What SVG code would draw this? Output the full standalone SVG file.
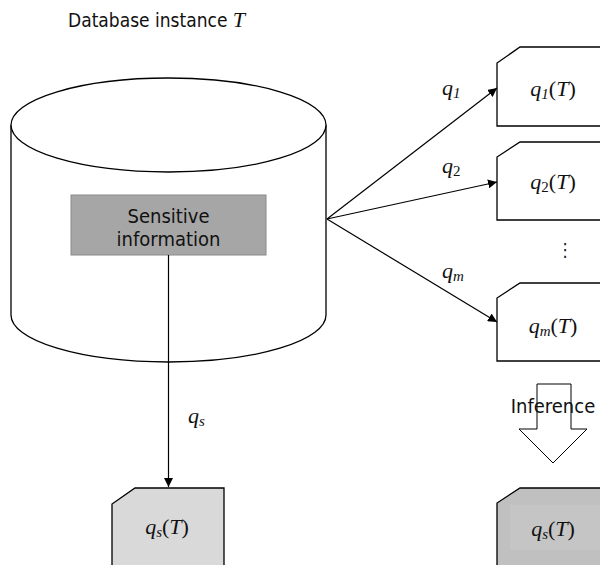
<svg xmlns="http://www.w3.org/2000/svg" width="600" height="565" viewBox="0 0 600 565">
<style>
.sans{font-family:"DejaVu Sans Condensed","DejaVu Sans",Verdana,sans-serif;fill:#111}
.m{font-family:"Liberation Serif","Times New Roman",serif;font-style:italic;font-size:22px;fill:#111}
.up{font-style:normal}
.sub{font-size:15px}
.edge{stroke:#000;stroke-width:1.2;fill:none}
.box{stroke:#000;stroke-width:1.3}
</style>
<defs>
<marker id="ah" viewBox="0 0 10 10" refX="10" refY="5" markerWidth="9" markerHeight="9" markerUnits="userSpaceOnUse" orient="auto">
<path d="M0,0 L10,5 L0,10 z" fill="#000"/>
</marker>
</defs>
<rect width="600" height="565" fill="#fff"/>

<text id="title" class="sans" x="68" y="27" font-size="19">Database instance <tspan class="m" font-size="21">T</tspan></text>

<g id="database">
<path class="box" fill="#fff" d="M11,125 L11,315 A157.5,47 0 0 0 326,315 L326,125"/>
<ellipse class="box" fill="#fff" cx="168.5" cy="125" rx="157.5" ry="47"/>
</g>

<g id="sensitive">
<rect x="71" y="195" width="195" height="60" fill="#a6a6a6" stroke="#8a8a8a" stroke-width="1"/>
<text class="sans" x="168.5" y="223" font-size="20" text-anchor="middle">Sensitive</text>
<text class="sans" x="168.5" y="246" font-size="20" text-anchor="middle">information</text>
</g>

<g id="connectors">
<line class="edge" x1="327" y1="219" x2="497" y2="88" marker-end="url(#ah)"/>
<line class="edge" x1="327" y1="219" x2="497" y2="182" marker-end="url(#ah)"/>
<line class="edge" x1="327" y1="219" x2="497" y2="322" marker-end="url(#ah)"/>
<line class="edge" x1="168.5" y1="255" x2="168.5" y2="487" marker-end="url(#ah)"/>
<text class="m" x="442" y="95">q<tspan class="sub" dy="3">1</tspan></text>
<text class="m" x="442" y="173">q<tspan class="sub up" dy="3">2</tspan></text>
<text class="m" x="442" y="278">q<tspan class="sub" dy="3">m</tspan></text>
<text class="m" x="188" y="423">q<tspan class="sub" dy="3">s</tspan></text>
</g>

<g id="q1T">
<path class="box" fill="#fff" d="M620,47 L520,47 L497,63 L497,126 L620,126"/>
<text class="m" x="553" y="96" text-anchor="middle">q<tspan class="sub" dy="3">1</tspan><tspan class="up" dy="-3">(</tspan>T<tspan class="up">)</tspan></text>
</g>

<g id="q2T">
<path class="box" fill="#fff" d="M620,142 L520,142 L497,157 L497,220 L620,220"/>
<text class="m" x="553" y="189" text-anchor="middle">q<tspan class="sub up" dy="3">2</tspan><tspan class="up" dy="-3">(</tspan>T<tspan class="up">)</tspan></text>
</g>

<text id="dots" class="sans" x="565" y="256" font-size="18" text-anchor="middle">⋮</text>

<g id="qmT">
<path class="box" fill="#fff" d="M620,283 L520,283 L497,298 L497,361 L620,361"/>
<text class="m" x="553" y="333" text-anchor="middle">q<tspan class="sub" dy="3">m</tspan><tspan class="up" dy="-3">(</tspan>T<tspan class="up">)</tspan></text>
</g>

<g id="inference">
<path d="M537,384 L571,384 L571,429 L587,429 L553,463 L519,429 L537,429 Z" fill="#fff" stroke="#000" stroke-width="1"/>
<text class="sans" x="553" y="413" font-size="20" text-anchor="middle">Inference</text>
</g>

<g id="qsT-left">
<path class="box" fill="#d9d9d9" d="M112,580 L112,504 L135,488 L224,488 L224,580"/>
<text class="m" x="167" y="534" text-anchor="middle">q<tspan class="sub" dy="3">s</tspan><tspan class="up" dy="-3">(</tspan>T<tspan class="up">)</tspan></text>
</g>

<g id="qsT-right">
<path class="box" fill="#c0c0c0" d="M620,488 L520,488 L497,503 L497,580 L620,580"/>
<rect x="510" y="505" width="90" height="45" fill="#c5c5c5"/>
<text class="m" x="553" y="536" text-anchor="middle">q<tspan class="sub" dy="3">s</tspan><tspan class="up" dy="-3">(</tspan>T<tspan class="up">)</tspan></text>
</g>
</svg>
